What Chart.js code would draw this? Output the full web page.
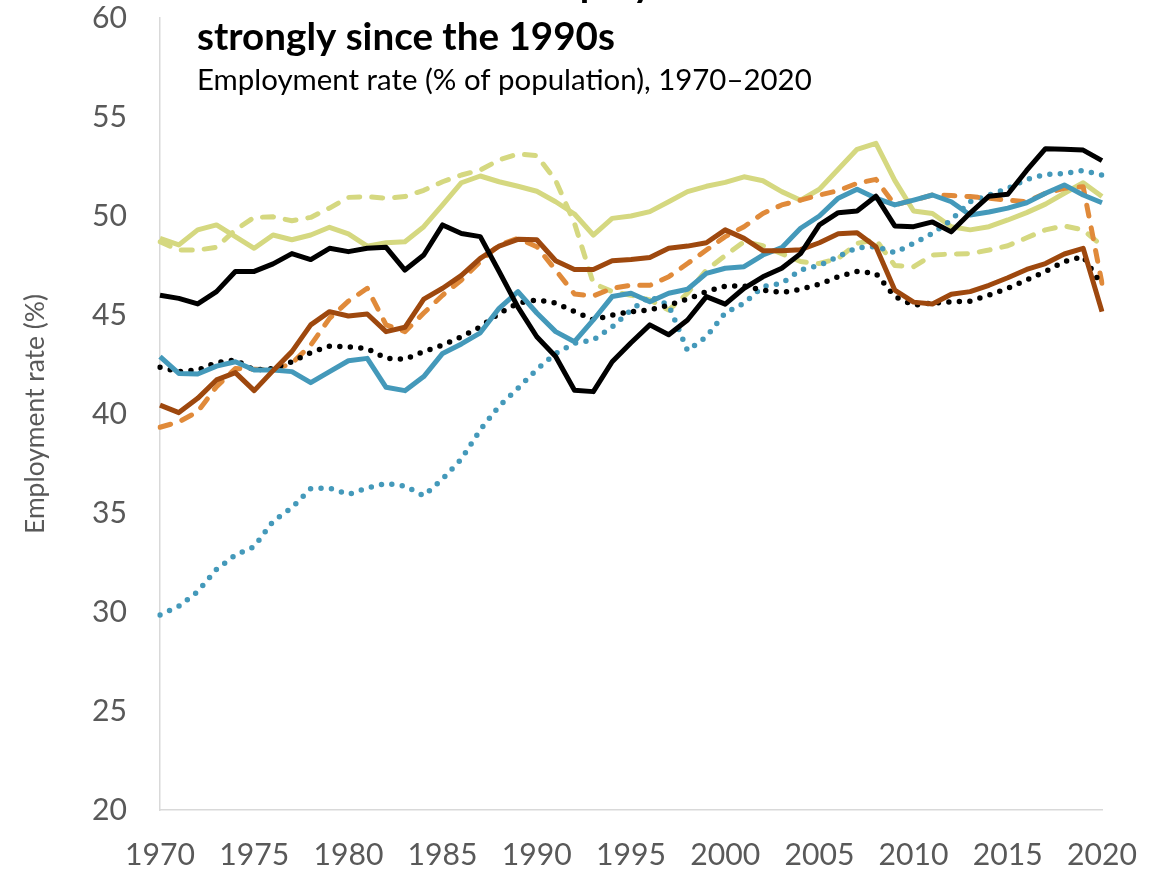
<!DOCTYPE html>
<html>
<head>
<meta charset="utf-8">
<script src="https://cdn.jsdelivr.net/npm/chart.js@4.4.1/dist/chart.umd.min.js"></script>
<style>
  html, body { margin: 0; padding: 0; background: #fff; }
  #wrap { width: 1163px; height: 878px; position: relative; }
</style>
</head>
<body>
<div id="wrap"><canvas id="chart"></canvas></div>
<script>
'use strict';

// ─── 데이터 (1970–2020) ─────────────────────────────────────────
const years = [];
for (let y = 1970; y <= 2020; y++) years.push(y);

const yTicks = [20, 25, 30, 35, 40, 45, 50, 55, 60];

const titleTop = 'Women\u2019s and total employment have risen';
const titleMain = 'strongly since the 1990s';
const subtitle = 'Employment rate (% of population), 1970\u20132020';
const yTitle = 'Employment rate (%)';

const blackSolid = [
  46.0, 45.84, 45.56, 46.18, 47.2, 47.2, 47.58, 48.1, 47.8, 48.37,
  48.2, 48.37, 48.42, 47.27, 48.03, 49.55, 49.12, 48.96, 47.2, 45.4,
  43.9, 42.9, 41.2, 41.13, 42.64, 43.6, 44.5, 44.0, 44.75, 45.93,
  45.55, 46.35, 46.93, 47.36, 48.1, 49.55, 50.17, 50.25, 51.0, 49.5,
  49.46, 49.7, 49.2, 50.15, 51.0, 51.1, 52.3, 53.4, 53.37, 53.33,
  52.8
];
const blackDotted = [
  42.36, 42.14, 42.22, 42.6, 42.73, 42.22, 42.3, 42.64, 43.1, 43.43,
  43.4, 43.3, 42.81, 42.76, 43.15, 43.48, 43.9, 44.4, 45.08, 45.6,
  45.76, 45.6, 45.17, 44.75, 45.0, 45.17, 45.25, 45.5, 45.8, 46.18,
  46.46, 46.46, 46.26, 46.13, 46.3, 46.56, 46.93, 47.2, 47.1, 45.93,
  45.5, 45.6, 45.67, 45.7, 46.0, 46.35, 46.77, 47.2, 47.7, 47.95,
  46.5
];
const tealSolid = [
  42.9, 42.05, 42.02, 42.42, 42.64, 42.22, 42.22, 42.14, 41.58, 42.14,
  42.69, 42.81, 41.35, 41.18, 41.89, 43.06, 43.54, 44.1, 45.34, 46.18,
  45.1, 44.16, 43.65, 44.75, 45.93, 46.1, 45.67, 46.1, 46.3, 47.1,
  47.36, 47.44, 48.03, 48.4, 49.38, 50.0, 50.9, 51.35, 50.9, 50.56,
  50.8, 51.06, 50.72, 50.05, 50.2, 50.4, 50.67, 51.15, 51.57, 51.06,
  50.67
];
const tealDotted = [
  29.85, 30.29, 31.03, 32.15, 32.88, 33.3, 34.58, 35.27, 36.23, 36.26,
  35.94, 36.26, 36.5, 36.36, 35.87, 36.72, 37.73, 39.2, 40.4, 41.3,
  42.25, 43.06, 43.57, 43.74, 44.4, 45.25, 45.93, 45.5, 43.2, 43.9,
  45.1, 45.6, 46.43, 46.6, 47.27, 47.5, 47.95, 48.4, 48.45, 48.15,
  48.62, 49.12, 49.8, 50.72, 51.06, 51.4, 51.85, 52.1, 52.15, 52.3,
  52.07
];
const brownSolid = [
  40.45, 40.07, 40.79, 41.72, 42.09, 41.18, 42.19, 43.15, 44.5, 45.17,
  44.95, 45.05, 44.16, 44.38, 45.8, 46.35, 47.0, 47.86, 48.48, 48.82,
  48.8, 47.74, 47.3, 47.3, 47.74, 47.8, 47.9, 48.37, 48.48, 48.65,
  49.3, 48.87, 48.25, 48.25, 48.3, 48.65, 49.1, 49.16, 48.45, 46.26,
  45.65, 45.56, 46.05, 46.18, 46.5, 46.88, 47.3, 47.6, 48.08, 48.37,
  45.17
];
const orangeDashed = [
  39.33, 39.6, 40.12, 41.38, 42.3, 42.26, 42.22, 42.56, 43.48, 44.83,
  45.7, 46.35, 44.5, 44.16, 45.1, 46.0, 46.77, 47.7, 48.54, 48.87,
  48.45, 47.27, 46.06, 45.96, 46.35, 46.5, 46.5, 46.93, 47.6, 48.28,
  48.96, 49.46, 50.13, 50.56, 50.8, 51.06, 51.28, 51.65, 51.85, 50.56,
  50.8, 51.06, 51.03, 50.98, 50.9, 50.8, 50.72, 51.15, 51.4, 51.48,
  46.6
];
const greenSolid = [
  48.87, 48.54, 49.3, 49.55, 48.96, 48.37, 49.04, 48.8, 49.04, 49.43,
  49.1, 48.48, 48.65, 48.7, 49.46, 50.56, 51.68, 52.02, 51.73, 51.5,
  51.25, 50.72, 50.1, 49.04, 49.88, 50.0, 50.22, 50.72, 51.23, 51.5,
  51.7, 51.98, 51.78, 51.23, 50.8, 51.35, 52.36, 53.37, 53.67, 51.8,
  50.25, 50.13, 49.46, 49.3, 49.46, 49.8, 50.17, 50.6, 51.15, 51.68,
  50.98
];
const greenDashed = [
  48.7, 48.28, 48.28, 48.42, 49.3, 49.93, 49.96, 49.76, 49.93, 50.4,
  50.94, 50.98, 50.9, 50.98, 51.3, 51.73, 52.07, 52.32, 52.83, 53.13,
  53.05, 51.8, 49.63, 46.6, 46.18, 46.0, 45.76, 45.25, 46.1, 47.27,
  48.0, 48.7, 48.5, 48.1, 47.7, 47.6, 47.86, 48.62, 48.8, 47.5,
  47.44, 48.03, 48.08, 48.1, 48.28, 48.5, 48.9, 49.3, 49.5, 49.3,
  48.5
];

// ─── 스타일 ─────────────────────────────────────────────────────
const FONT = "Lato, 'Open Sans', sans-serif";
const GREY = '#595959';
const C = {
  black:  '#000000',
  teal:   '#4499BA',
  brown:  '#9E480E',
  orange: '#E08A3A',
  green:  '#D5D880'
};

// 폭에 맞는 글꼴 크기 계산 (원본 Calibri 폭 재현용)
const _mctx = document.createElement('canvas').getContext('2d');
function fitSize(text, weight, width) {
  _mctx.font = weight + ' 100px ' + FONT;
  return 100 * width / _mctx.measureText(text).width;
}

function line(label, data, color, kind) {
  const ds = {
    label, data,
    borderColor: color,
    backgroundColor: color,
    borderWidth: 5,
    pointRadius: 0,
    tension: 0,
    fill: false,
    borderJoinStyle: 'round'
  };
  if (kind === 'dot')  { ds.borderDash = [0, 10.5]; ds.borderCapStyle = 'round'; ds.borderWidth = 5.5; }
  if (kind === 'dash') { ds.borderDash = [11, 12];  ds.borderCapStyle = 'round'; }
  return ds;
}

// ─── 제목/부제 플러그인 (플롯 영역 위에 그림, 첫 줄은 위로 잘림) ──
const titlePlugin = {
  id: 'titleText',
  afterDraw(chart) {
    const ctx = chart.ctx;
    const bold = fitSize(titleMain, 'bold', 418);
    ctx.save();
    ctx.fillStyle = '#000';
    ctx.textAlign = 'left';
    ctx.textBaseline = 'alphabetic';
    ctx.font = 'bold ' + bold + 'px ' + FONT;
    ctx.fillText(titleTop, 197, -3);
    ctx.fillText(titleMain, 197, 50);
    ctx.font = fitSize(subtitle, 'normal', 615) + 'px ' + FONT;
    ctx.fillText(subtitle, 197, 90);
    ctx.restore();
  }
};

const datasets = [
  line('Black solid',   blackSolid,   C.black,  'solid'),
  line('Brown solid',   brownSolid,   C.brown,  'solid'),
  line('Teal solid',    tealSolid,    C.teal,   'solid'),
  line('Black dotted',  blackDotted,  C.black,  'dot'),
  line('Orange dashed', orangeDashed, C.orange, 'dash'),
  line('Teal dotted',   tealDotted,   C.teal,   'dot'),
  line('Green dashed',  greenDashed,  C.green,  'dash'),
  line('Green solid',   greenSolid,   C.green,  'solid')
];

const tickSize = fitSize('2020', 'normal', 70);
const yTitleSize = fitSize(yTitle, 'normal', 240);

new Chart(document.getElementById('chart'), {
  type: 'line',
  data: { labels: years, datasets },
  options: {
    responsive: true,
    maintainAspectRatio: false,
    animation: false,
    layout: { padding: { top: 18, right: 61, bottom: 0, left: 0 } },
    plugins: {
      legend: { display: false },
      tooltip: { enabled: false }
    },
    scales: {
      x: {
        type: 'category',
        offset: false,
        grid: { display: false, drawTicks: false },
        border: { display: true, color: '#D9D9D9', width: 1.5 },
        ticks: {
          autoSkip: false,
          maxRotation: 0,
          color: GREY,
          padding: 27,
          font: { family: FONT, size: tickSize },
          callback: (v, i) => (years[i] % 5 === 0 ? String(years[i]) : '')
        },
        afterFit: s => { s.height = 68; s.paddingLeft = 0; s.paddingRight = 0; }
      },
      y: {
        min: 20, max: 60,
        afterBuildTicks: s => { s.ticks = yTicks.map(v => ({ value: v })); },
        grid: { display: false, drawTicks: false },
        border: { display: true, color: '#D9D9D9', width: 1.5 },
        ticks: {
          color: GREY,
          padding: 33,
          font: { family: FONT, size: tickSize }
        },
        title: {
          display: true,
          text: yTitle,
          color: GREY,
          font: { family: FONT, size: yTitleSize },
          padding: { top: 20, bottom: 0 }
        },
        afterFit: s => { s.width = 160; s.paddingTop = 0; s.paddingBottom = 0; }
      }
    }
  },
  plugins: [titlePlugin]
});
</script>
</body>
</html>
